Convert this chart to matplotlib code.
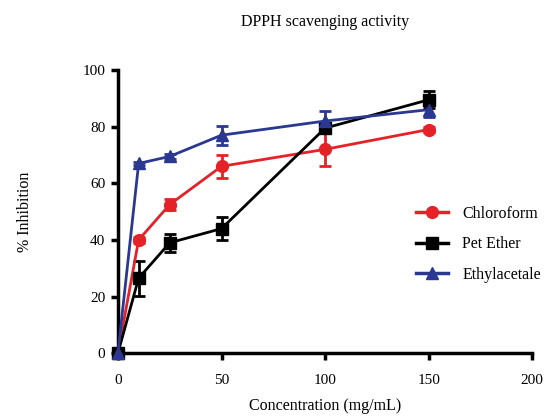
import numpy as np
import matplotlib.pyplot as plt
from matplotlib.lines import Line2D

plt.rcParams['font.family'] = ['Liberation Serif', 'DejaVu Serif']

conc = [0, 10, 25, 50, 100, 150]

chloroform = [0, 40, 52.5, 66, 72, 79]
chloroform_err = [0, 1.2, 2, 4, 6, 1]

pet_ether = [0, 26.5, 39, 44, 79.5, 89.5]
pet_ether_err = [0, 6.2, 3.2, 4, 1, 3]

ethyl = [0, 67, 69.5, 77, 82, 86]
ethyl_err = [0, 0.5, 0.8, 3.3, 3.5, 2.5]

series = [
    ('Chloroform', chloroform, chloroform_err, '#e52228', 'o', 8.5),
    ('Pet Ether', pet_ether, pet_ether_err, '#000000', 's', 8.5),
    ('Ethylacetale', ethyl, ethyl_err, '#2b3892', '^', 8),
]

fig = plt.figure(figsize=(5.51, 4.17), dpi=100)
ax = fig.add_axes([0.214, 0.153, 0.752, 0.679])

handles = []
for name, vals, err, col, mk, ms in series:
    ax.errorbar(conc, vals, yerr=err, color=col, marker=mk, markersize=ms,
                linewidth=2, elinewidth=2, capsize=4, capthick=2,
                clip_on=False, zorder=3)
    handles.append(Line2D([], [], color=col, marker=mk, markersize=ms,
                          linewidth=2.5, label=name))

ax.set_xlim(0, 200)
ax.set_ylim(0, 100)
ax.set_xticks([0, 50, 100, 150, 200])
ax.set_yticks([0, 20, 40, 60, 80, 100])

for side in ['top', 'right']:
    ax.spines[side].set_visible(False)
for side in ['left', 'bottom']:
    ax.spines[side].set_linewidth(2.5)
ax.tick_params(width=2.5, length=5, labelsize=11, pad=4)
ax.tick_params(axis='x', pad=10)

ax.set_title('DPPH scavenging activity', fontsize=11.5, pad=32)
ax.set_xlabel('Concentration (mg/mL)', fontsize=11.5, labelpad=8)
ax.set_ylabel('% Inhibition', fontsize=11.5, labelpad=36)

ax.legend(handles=handles, loc='center left', bbox_to_anchor=(0.685, 0.385),
          frameon=False, fontsize=11.5, handlelength=2, labelspacing=0.9,
          handletextpad=0.9)

fig.savefig('out.png', dpi=100)
